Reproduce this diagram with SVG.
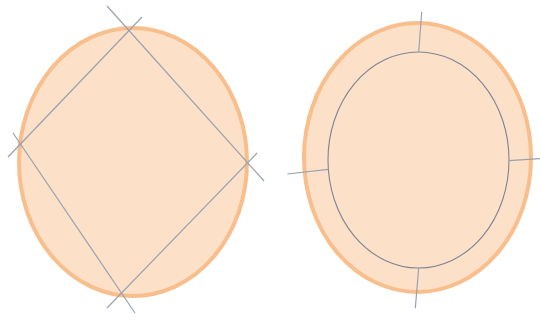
<svg xmlns="http://www.w3.org/2000/svg" width="540" height="320" viewBox="0 0 540 320">
<style>
.blob{fill:#FDE0C8;stroke:#F8BE8C;stroke-width:4}
.ln{stroke:#98A2AE;stroke-width:1.2;fill:none}
.inner{fill:none;stroke:#7C8594;stroke-width:1.1}
</style>
<rect width="540" height="320" fill="#ffffff"/>
<g id="left-shape">
<ellipse class="blob" cx="133" cy="162" rx="114" ry="134"/>
</g>
<g id="right-shape">
<ellipse class="blob" cx="417.5" cy="157.5" rx="113.5" ry="134.5"/>
<ellipse class="inner" cx="418.5" cy="160" rx="90.5" ry="108"/>
</g>
<g id="connectors">
<line class="ln" x1="107" y1="6" x2="264" y2="181"/>
<line class="ln" x1="8" y1="157" x2="142" y2="17"/>
<line class="ln" x1="13" y1="133" x2="135" y2="313"/>
<line class="ln" x1="107" y1="308" x2="257" y2="153"/>
<line class="ln" x1="421.7" y1="11.7" x2="418.7" y2="52"/>
<line class="ln" x1="287.3" y1="174" x2="328.3" y2="169.3"/>
<line class="ln" x1="509" y1="160.7" x2="540" y2="158.7"/>
<line class="ln" x1="418.7" y1="267.7" x2="415.3" y2="308.3"/>
</g>
</svg>
